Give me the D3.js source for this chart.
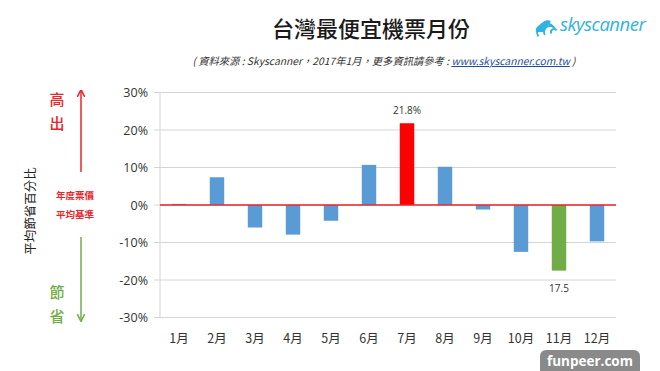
<!DOCTYPE html>
<html>
<head>
<meta charset="utf-8">
<script src="https://cdn.jsdelivr.net/npm/d3@7"></script>
<style>
  html, body { margin: 0; padding: 0; background: #fff; }
  svg { display: block; font-family: "Noto Sans CJK TC", "Noto Sans", sans-serif; }
</style>
</head>
<body>
<svg id="chart" width="660" height="371"></svg>
<script>
// ── Data ────────────────────────────────────────────────────────────────
const months = ["1月", "2月", "3月", "4月", "5月", "6月", "7月", "8月", "9月", "10月", "11月", "12月"];
const values = [0.3, 7.4, -6.0, -7.9, -4.2, 10.7, 21.8, 10.2, -1.2, -12.5, -17.5, -9.7];
const yTicks = [30, 20, 10, 0, -10, -20, -30];
const dataLabels = [{ month: "7月", text: "21.8%" }, { month: "11月", text: "17.5" }];

const BLUE = "#5b9bd5", RED = "#ff0000", GREEN = "#70ad47";
const barColor = (m) => m === "7月" ? RED : m === "11月" ? GREEN : BLUE;

const svg = d3.select("#chart");

const x = d3.scaleBand().domain(months).range([160, 616]).paddingInner(0.62).paddingOuter(0.31);
const y = d3.scaleLinear().domain([-30, 30]).range([317.5, 92.5]);

// ── Grid + axes ─────────────────────────────────────────────────────────
svg.append("g")
  .selectAll("line")
  .data(yTicks)
  .enter().append("line")
  .attr("x1", 154).attr("x2", 616)
  .attr("y1", d => y(d)).attr("y2", d => y(d))
  .attr("stroke", "#d4d4d4").attr("stroke-width", 1);

svg.append("line")
  .attr("x1", 160).attr("x2", 160)
  .attr("y1", y(30)).attr("y2", y(-30))
  .attr("stroke", "#d4d4d4");

const yAxis = svg.append("g")
  .attr("transform", "translate(154,0)")
  .call(d3.axisLeft(y).tickValues(yTicks).tickSize(0).tickPadding(6).tickFormat(d => d + "%"));
yAxis.select(".domain").remove();
yAxis.selectAll("text")
  .attr("fill", "#333")
  .style("font-size", "12.5px")
  .style("font-family", "'Open Sans', 'Noto Sans', sans-serif");

const xAxis = svg.append("g")
  .attr("transform", "translate(0,330)")
  .call(d3.axisBottom(x).tickSize(0).tickPadding(4));
xAxis.select(".domain").remove();
xAxis.selectAll("text")
  .attr("fill", "#333")
  .style("font-size", "12.5px")
  .style("font-family", "'Noto Sans CJK TC', sans-serif");

// ── Bars ────────────────────────────────────────────────────────────────
svg.append("g")
  .selectAll("rect")
  .data(months.map((m, i) => ({ m, v: values[i] })))
  .enter().append("rect")
  .attr("x", d => x(d.m))
  .attr("width", x.bandwidth())
  .attr("y", d => y(Math.max(0, d.v)))
  .attr("height", d => Math.abs(y(d.v) - y(0)))
  .attr("fill", d => barColor(d.m));

// zero line
svg.append("line")
  .attr("x1", 160).attr("x2", 616)
  .attr("y1", y(0)).attr("y2", y(0))
  .attr("stroke", "#e8262a").attr("stroke-width", 1.3);

// data labels
svg.append("g")
  .selectAll("text")
  .data(dataLabels)
  .enter().append("text")
  .attr("x", d => x(d.month) + x.bandwidth() / 2)
  .attr("y", d => {
    const v = values[months.indexOf(d.month)];
    return v > 0 ? y(v) - 9 : y(v) + 21;
  })
  .attr("text-anchor", "middle")
  .attr("fill", "#333")
  .style("font-size", "10px")
  .style("font-family", "'Open Sans', sans-serif")
  .text(d => d.text);

// ── Left annotation ─────────────────────────────────────────────────────
const defs = svg.append("defs");
function arrowHead(id, color) {
  defs.append("marker")
    .attr("id", id)
    .attr("viewBox", "0 -5 10 10")
    .attr("refX", 8).attr("refY", 0)
    .attr("markerWidth", 5).attr("markerHeight", 5)
    .attr("orient", "auto")
    .append("path").attr("d", "M0,-5L10,0L0,5").attr("fill", "none")
    .attr("stroke", color).attr("stroke-width", 2);
}
arrowHead("arr-red", "#e8262a");
arrowHead("arr-green", "#70ad47");

svg.append("line")
  .attr("x1", 81).attr("x2", 81).attr("y1", 172).attr("y2", 91)
  .attr("stroke", "#e8262a").attr("stroke-width", 1.5)
  .attr("marker-end", "url(#arr-red)");
svg.append("line")
  .attr("x1", 81).attr("x2", 81).attr("y1", 237).attr("y2", 320)
  .attr("stroke", "#70ad47").attr("stroke-width", 1.5)
  .attr("marker-end", "url(#arr-green)");

const sideText = [
  { t: "高", x: 57, y: 105, c: "#e8262a", s: 15 },
  { t: "出", x: 57, y: 129, c: "#e8262a", s: 15 },
  { t: "節", x: 57, y: 298, c: "#70ad47", s: 15 },
  { t: "省", x: 57, y: 322, c: "#70ad47", s: 15 },
  { t: "年度票價", x: 75, y: 199, c: "#e8262a", s: 9.5 },
  { t: "平均基準", x: 75, y: 218, c: "#e8262a", s: 9.5 }
];
svg.append("g")
  .selectAll("text")
  .data(sideText)
  .enter().append("text")
  .attr("x", d => d.x).attr("y", d => d.y)
  .attr("text-anchor", "middle")
  .attr("fill", d => d.c)
  .style("font-size", d => d.s + "px")
  .style("font-weight", d => d.s < 12 ? "bold" : "500")
  .text(d => d.t);

svg.append("text")
  .attr("transform", "translate(35,211) rotate(-90)")
  .attr("text-anchor", "middle")
  .attr("fill", "#222")
  .style("font-size", "12.5px")
  .text("平均節省百分比");

// ── Title ───────────────────────────────────────────────────────────────
svg.append("text")
  .attr("x", 371).attr("y", 37)
  .attr("text-anchor", "middle")
  .attr("fill", "#1a1a1a")
  .style("font-size", "22px")
  .style("font-weight", "500")
  .text("台灣最便宜機票月份");

const sub = svg.append("text")
  .attr("x", 384).attr("y", 65)
  .attr("text-anchor", "middle")
  .attr("fill", "#333")
  .style("font-size", "10.3px")
  .style("font-style", "italic");
sub.append("tspan").text("( 資料來源 : Skyscanner，2017年1月，更多資訊請參考 : ");
sub.append("tspan").attr("fill", "#1f4e9a").attr("text-decoration", "underline").text("www.skyscanner.com.tw");
sub.append("tspan").text(" )");

// ── Skyscanner logo ─────────────────────────────────────────────────────
const SKY = "#2fb3e0";
const logo = svg.append("g").attr("transform", "translate(535,16)");
logo.append("path")
  .attr("d", "M1,16 C0,12 3,9 6,10 C7,5 12,3 16,5 L9,16 Z")
  .attr("fill", SKY);
[[11, 16, 9], [15, 16, 6], [19, 16, 3]].forEach(([cx, cy, r]) => {
  logo.append("path")
    .attr("d", `M${cx - r},${cy} A${r},${r} 0 0 1 ${cx + r},${cy}`)
    .attr("fill", "none").attr("stroke", SKY).attr("stroke-width", 1.8)
    .attr("transform", `rotate(-30 ${cx} ${cy})`);
});
logo.append("text")
  .attr("x", 25).attr("y", 15)
  .attr("fill", SKY)
  .style("font-size", "18.5px")
  .style("font-style", "italic")
  .style("font-family", "'Open Sans', sans-serif")
  .style("letter-spacing", "-0.5px")
  .text("skyscanner");

// ── Watermark ───────────────────────────────────────────────────────────
svg.append("rect")
  .attr("x", 540).attr("y", 350).attr("width", 100).attr("height", 26)
  .attr("rx", 6).attr("fill", "#8a8a8a");
svg.append("text")
  .attr("x", 590).attr("y", 366)
  .attr("text-anchor", "middle")
  .attr("fill", "#fff")
  .style("font-size", "13.5px")
  .style("font-weight", "bold")
  .style("font-family", "'Open Sans', sans-serif")
  .text("funpeer.com");
</script>
</body>
</html>
